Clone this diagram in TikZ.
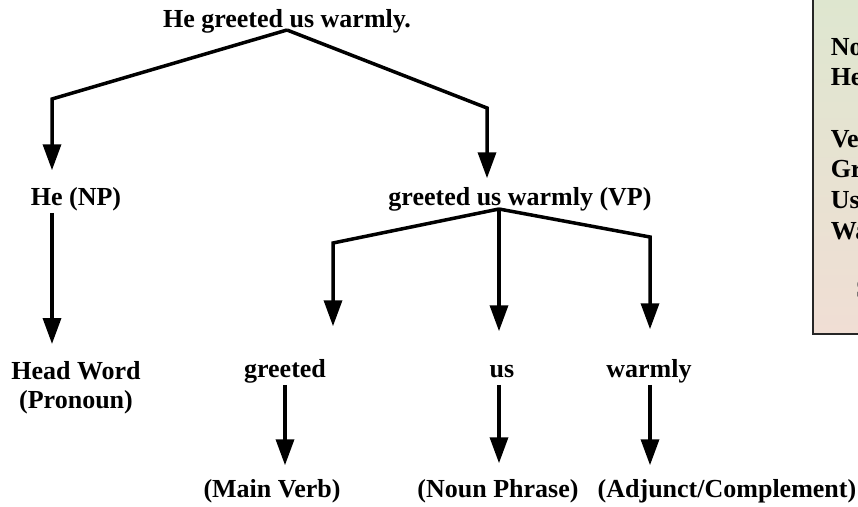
\documentclass[tikz,border=0pt]{standalone}
\usepackage{fontspec}
\setmainfont{Liberation Serif}
\usetikzlibrary{arrows.meta}
\definecolor{notetop}{RGB}{221,231,207}
\definecolor{notebottom}{RGB}{240,222,212}

\begin{document}
\begin{tikzpicture}[x=1pt,y=-1pt,line width=3.5pt,>={Triangle[length=26pt,width=18pt]},
                    every node/.style={font=\fontsize{26}{29}\selectfont\bfseries,
                    inner sep=0pt,anchor=base,text height=18pt,text depth=6pt}]
  \tikzstyle{notebox}=[draw=black!85,line width=1.5pt,top color=notetop,bottom color=notebottom]
  \tikzstyle{notetext}=[font=\fontsize{26}{30.7}\selectfont\bfseries,align=left,
                        text height=,text depth=]

  \useasboundingbox (0,0) rectangle (858,506);
  \clip (0,0) rectangle (858,506);

  \draw[notebox] (813,-20) rectangle (980,334);
  \node[notetext,anchor=north west] (note) at (829,35.4)
    {Noun Phrase (NP):\\He\\[30.7pt]Verb Phrase (VP):\\Greeted\\Us\\Warmly};
  \node[anchor=base west,text=black!60] (notefoot) at (854,297) {SVOA Structure};

  \node (root)     at (287,27)  {He greeted us warmly.};
  \node (np)       at (76,205)  {He (NP)};
  \node (vp)       at (520,205) {greeted us warmly (VP)};
  \node[align=center,anchor=north,text height=,text depth=] (head) at (76,359.5) {Head Word\\(Pronoun)};
  \node (greeted)  at (285,377) {greeted};
  \node (us)       at (502,377) {us};
  \node (warmly)   at (649,377) {warmly};
  \node (mainverb) at (272,497) {(Main Verb)};
  \node (nounphr)  at (498,497) {(Noun Phrase)};
  \node (adjunct)  at (727,497) {(Adjunct/Complement)};

  \coordinate (rootfork) at ([yshift=-3pt]root.base);
  \coordinate (vpfork)   at ([xshift=-21pt,yshift=-4pt]vp.base);
  \coordinate (npbend)   at (52,99);
  \coordinate (vpbend)   at (487,108);
  \coordinate (gbend)    at (333,243);
  \coordinate (wbend)    at (650,237);

  \draw[->,shorten >=15pt] (rootfork) -- (npbend) -- (npbend |- np.north);
  \draw[->,shorten >=7pt]  (rootfork) -- (vpbend) -- (vpbend |- vp.north);
  \draw[->,shorten >=31pt] (vpfork) -- (gbend) -- (gbend |- greeted.north);
  \draw[->,shorten >=26pt] (vpfork) -- (vpfork |- us.north);
  \draw[->,shorten >=28pt] (vpfork) -- (wbend) -- (wbend |- warmly.north);

  \draw[->,shorten >=15.5pt] (npbend |- np.south) -- (npbend |- head.north);
  \draw[->,shorten >=12pt] (greeted.south) -- (greeted.south |- mainverb.north);
  \draw[->,shorten >=14pt] (vpfork |- us.south) -- (vpfork |- nounphr.north);
  \draw[->,shorten >=12pt] (wbend |- warmly.south) -- (wbend |- adjunct.north);
\end{tikzpicture}
\end{document}
